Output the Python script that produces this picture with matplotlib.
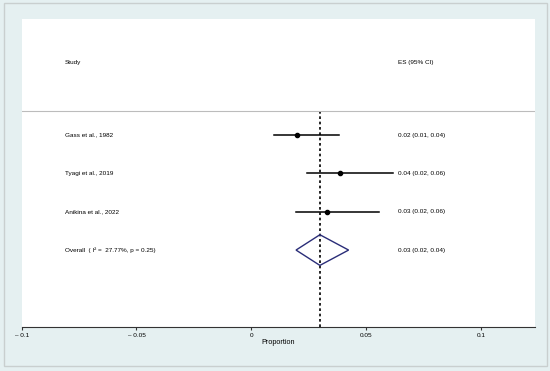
import matplotlib
matplotlib.use("Agg")
import matplotlib.pyplot as plt
from matplotlib.patches import Polygon, Rectangle
from matplotlib.transforms import blended_transform_factory

# data
studies = ["Gass et al., 1982", "Tyagi et al., 2019", "Anikina et al., 2022"]
es = [0.0198, 0.0388, 0.0331]
ci_lo = [0.0100, 0.0241, 0.0195]
ci_hi = [0.0383, 0.0618, 0.0555]
es_labels = ["0.02 (0.01, 0.04)", "0.04 (0.02, 0.06)", "0.03 (0.02, 0.06)"]

overall_label = "Overall  ( I² =  27.77%, p = 0.25)"
overall_es = 0.0299
overall_lo = 0.0195
overall_hi = 0.0424
overall_text = "0.03 (0.02, 0.04)"

xticks = [-0.1, -0.05, 0, 0.05, 0.1]
xtick_labels = ["– 0.1", "– 0.05", "0", "0.05", "0.1"]

BG = "#e5f0f1"
NAVY = "#2a2d78"
FONT = "Liberation Sans"

plt.rcParams["font.family"] = [FONT, "DejaVu Sans"]

fig = plt.figure(figsize=(5.5, 3.71), dpi=100, facecolor=BG)
fig.patches.append(Rectangle((3.5 / 550, 5 / 371), 543 / 550, 363 / 371,
                             transform=fig.transFigure, fill=False,
                             edgecolor="#c9cfcf", lw=1.0))

ax = fig.add_axes([21.7 / 550, 1 - 326.7 / 371, (535 - 21.7) / 550, (326.7 - 19) / 371])
ax.set_facecolor("white")
ax.set_xlim(-0.1, 0.1236)
ax.set_ylim(6.0, -2.03)

for s in ["top", "right", "left"]:
    ax.spines[s].set_visible(False)
ax.spines["bottom"].set_color("#333333")
ax.spines["bottom"].set_linewidth(0.8)
ax.set_yticks([])
ax.set_xticks(xticks)
ax.set_xticklabels(xtick_labels, fontsize=4.6)
ax.tick_params(axis="x", length=2.5, width=0.8, color="#333333", pad=2)
ax.set_xlabel("Proportion", fontsize=5.2, labelpad=1)

tr = blended_transform_factory(ax.transData, ax.transData)

# header
ax.text(-0.0811, -0.9, "Study", fontsize=4.6, va="center", ha="left")
ax.text(0.0639, -0.9, "ES (95% CI)", fontsize=4.6, va="center", ha="left")
ax.axhline(0.38, color="#bcbcbc", lw=0.8)

# null / pooled line
ax.plot([overall_es, overall_es], [0.38, 6.0], color="black", lw=1.2,
        dashes=(1.6, 1.6), zorder=1)

rows = range(1, len(studies) + 1)
for r, name, e, lo, hi, lab in zip(rows, studies, es, ci_lo, ci_hi, es_labels):
    ax.plot([lo, hi], [r, r], color="black", lw=1.1, zorder=2)
    ax.plot(e, r, "o", color="black", markersize=3, zorder=3)
    ax.text(-0.0811, r, name, fontsize=4.6, va="center", ha="left")
    ax.text(0.0639, r, lab, fontsize=4.6, va="center", ha="left")

r = len(studies) + 1
diamond = Polygon([[overall_lo, r], [overall_es, r - 0.4], [overall_hi, r], [overall_es, r + 0.4]],
                  closed=True, fill=False, edgecolor=NAVY, lw=1.0, zorder=3)
ax.add_patch(diamond)
ax.text(-0.0811, r, overall_label, fontsize=4.6, va="center", ha="left")
ax.text(0.0639, r, overall_text, fontsize=4.6, va="center", ha="left")

fig.savefig("out.png", dpi=100, facecolor=BG)
